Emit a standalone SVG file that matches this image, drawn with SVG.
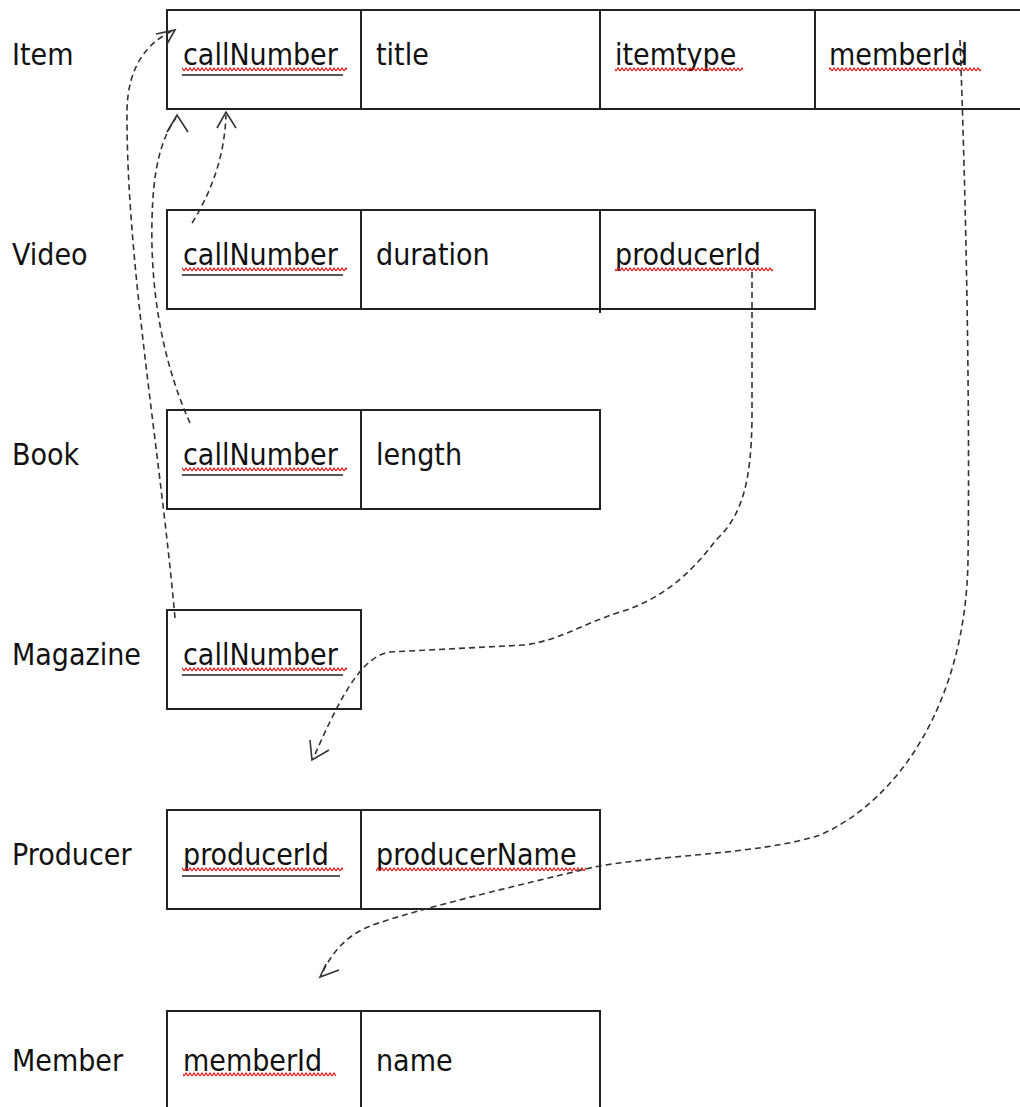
<svg xmlns="http://www.w3.org/2000/svg" width="1020" height="1107" viewBox="0 0 1020 1107">
<style>
.bg{fill:#fff}
.box{fill:none;stroke:#222;stroke-width:2}
.t{font-family:"DejaVu Sans Condensed","DejaVu Sans",sans-serif;font-stretch:condensed;font-size:30px;fill:#111}
.ul{stroke:#222;stroke-width:1.6}
.sq{fill:url(#sq)}
.conn{fill:none;stroke:#333;stroke-width:1.6;stroke-dasharray:6 4}
.head{fill:none;stroke:#333;stroke-width:1.6}
</style>
<defs>
<pattern id="sq" x="0" y="2" width="4" height="5" patternUnits="userSpaceOnUse">
<path d="M0,4 L2,1 L4,4" fill="none" stroke="#e01010" stroke-width="1.2"/>
</pattern>
</defs>
<rect class="bg" x="0" y="0" width="1020" height="1107"/>

<g id="item">
<text class="t" x="12" y="65">Item</text>
<rect class="box" x="167" y="10" width="870" height="99"/>
<line class="box" x1="361" y1="10" x2="361" y2="109"/>
<line class="box" x1="600" y1="10" x2="600" y2="109"/>
<line class="box" x1="815" y1="10" x2="815" y2="109"/>
<text class="t" x="183" y="65">callNumber</text>
<rect class="sq" x="182" y="67" width="165" height="5"/>
<line class="ul" x1="182" y1="75" x2="343" y2="75"/>
<text class="t" x="376" y="65">title</text>
<text class="t" x="615" y="65">itemtype</text>
<rect class="sq" x="615" y="67" width="128" height="5"/>
<text class="t" x="829" y="65">memberId</text>
<rect class="sq" x="829" y="67" width="152" height="5"/>
</g>

<g id="video">
<text class="t" x="12" y="265">Video</text>
<rect class="box" x="167" y="210" width="648" height="99"/>
<line class="box" x1="361" y1="210" x2="361" y2="309"/>
<line class="box" x1="600" y1="210" x2="600" y2="313"/>
<text class="t" x="183" y="265">callNumber</text>
<rect class="sq" x="182" y="267" width="165" height="5"/>
<line class="ul" x1="182" y1="275" x2="343" y2="275"/>
<text class="t" x="376" y="265">duration</text>
<text class="t" x="615" y="265">producerId</text>
<rect class="sq" x="615" y="267" width="158" height="5"/>
</g>

<g id="book">
<text class="t" x="12" y="465">Book</text>
<rect class="box" x="167" y="410" width="433" height="99"/>
<line class="box" x1="361" y1="410" x2="361" y2="509"/>
<text class="t" x="183" y="465">callNumber</text>
<rect class="sq" x="182" y="467" width="165" height="5"/>
<line class="ul" x1="182" y1="475" x2="343" y2="475"/>
<text class="t" x="376" y="465">length</text>
</g>

<g id="magazine">
<text class="t" x="12" y="665">Magazine</text>
<rect class="box" x="167" y="610" width="194" height="99"/>
<text class="t" x="183" y="665">callNumber</text>
<rect class="sq" x="182" y="667" width="165" height="5"/>
<line class="ul" x1="182" y1="675" x2="343" y2="675"/>
</g>

<g id="producer">
<text class="t" x="12" y="865">Producer</text>
<rect class="box" x="167" y="810" width="433" height="99"/>
<line class="box" x1="361" y1="810" x2="361" y2="909"/>
<text class="t" x="183" y="865">producerId</text>
<rect class="sq" x="182" y="867" width="161" height="5"/>
<line class="ul" x1="182" y1="876" x2="340" y2="876"/>
<text class="t" x="376" y="865">producerName</text>
<rect class="sq" x="376" y="867" width="210" height="5"/>
</g>

<g id="member">
<text class="t" x="12" y="1071">Member</text>
<rect class="box" x="167" y="1011" width="433" height="110"/>
<line class="box" x1="361" y1="1011" x2="361" y2="1107"/>
<text class="t" x="183" y="1071">memberId</text>
<rect class="sq" x="183" y="1072" width="153" height="5"/>
<text class="t" x="376" y="1071">name</text>
</g>

<g id="connectors">
<path class="conn" d="M175,618 C160,450 126,260 127,110 C128,65 148,42 174,30"/>
<polyline class="head" points="156,34 175,30 167,44"/>
<path class="conn" d="M190,423 C166,370 150,300 152,220 C153,172 160,140 176,118"/>
<polyline class="head" points="167,132 177,115 188,132"/>
<path class="conn" d="M192,223 Q224,172 226,115"/>
<polyline class="head" points="217,128 226,112 236,128"/>
<path class="conn" d="M752,272 L752,420 C751,480 743,515 716,540 C690,575 660,600 620,612 C580,625 560,640 525,645 L390,652 C365,656 345,685 313,759"/>
<polyline class="head" points="310,740 312,760 329,750"/>
<path class="conn" d="M960,40 C966,200 970,400 968,560 C966,700 900,800 820,835 C760,855 650,855 590,868 C520,885 420,908 370,926 C345,936 330,955 321,976"/>
<polyline class="head" points="326,964 320,977 339,970"/>
</g>
</svg>
